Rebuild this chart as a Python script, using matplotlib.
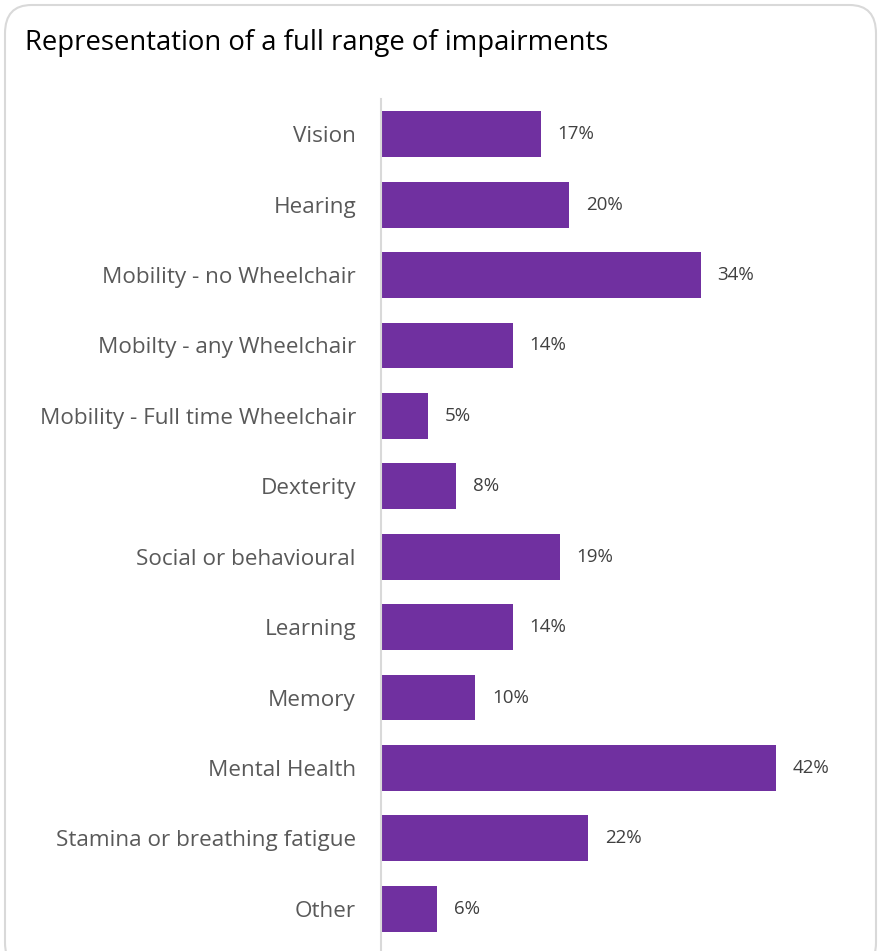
import matplotlib.pyplot as plt
from matplotlib.patches import FancyBboxPatch

categories = [
    "Vision",
    "Hearing",
    "Mobility - no Wheelchair",
    "Mobilty - any Wheelchair",
    "Mobility - Full time Wheelchair",
    "Dexterity",
    "Social or behavioural",
    "Learning",
    "Memory",
    "Mental Health",
    "Stamina or breathing fatigue",
    "Other",
]
values = [17, 20, 34, 14, 5, 8, 19, 14, 10, 42, 22, 6]

W, H = 881, 951
fig = plt.figure(figsize=(W / 100, H / 100), dpi=100)
plt.rcParams["font.family"] = ["Open Sans", "DejaVu Sans"]

# rounded chart frame
frame = FancyBboxPatch((5 / W, -20 / H), 871 / W, (H - 5 + 20) / H,
                       boxstyle="round,pad=0,rounding_size=0.03",
                       transform=fig.transFigure, facecolor="none",
                       edgecolor="#D9D9D9", linewidth=1.5, zorder=-1)
fig.patches.append(frame)

ax = fig.add_axes([381 / W, 1 - 944 / H, 470 / W, (944 - 99) / H])
ax.set_facecolor("none")

y = list(range(len(categories)))
ax.barh(y, values, height=0.65, color="#7030A0")
ax.set_xlim(0, 50)
ax.set_ylim(len(categories) - 0.5, -0.5)
ax.set_yticks(y)
ax.set_yticklabels(categories, fontsize=16.2, color="#595959")
ax.tick_params(axis="y", length=0, pad=18)
ax.set_xticks([])
for s in ["top", "right", "bottom"]:
    ax.spines[s].set_visible(False)
ax.spines["left"].set_color("#D9D9D9")
ax.spines["left"].set_linewidth(1.5)
ax.spines["left"].set_bounds(-0.5, len(categories) - 0.5 + 0.2)

for yi, v in zip(y, values):
    ax.text(v + 1.8, yi, f"{v}%", va="center", ha="left",
            fontsize=13.5, color="#404040")

fig.text(25 / W, 1 - 43 / H, "Representation of a full range of impairments",
         fontsize=19.8, color="black", va="center", ha="left")

fig.savefig("out.png", dpi=100)
